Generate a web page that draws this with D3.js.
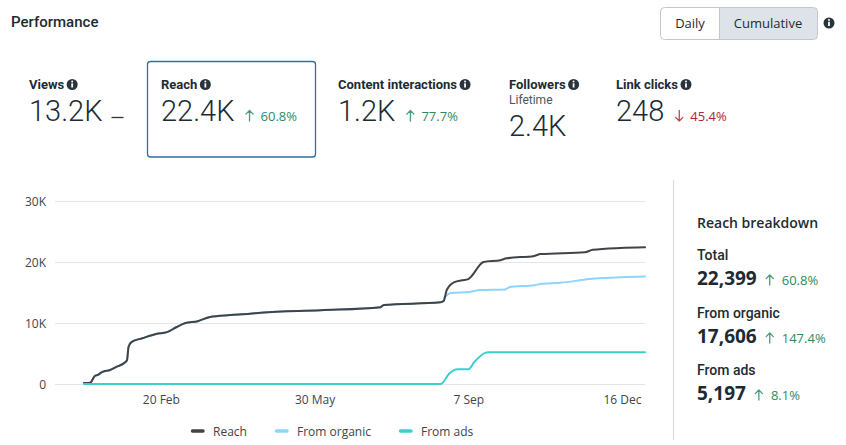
<!DOCTYPE html>
<html><head><meta charset="utf-8">
<script src="https://cdn.jsdelivr.net/npm/d3@7"></script>
<style>
body{margin:0;background:#fff;}
svg text{font-family:"Open Sans",sans-serif;}
</style></head><body>
<svg id="c" width="846" height="445"></svg>
<script>
// ---------------- data ----------------
const kpiLabels = ["Views", "Reach", "Content interactions", "Followers", "Link clicks"];
const kpiValues = ["13.2K", "22.4K", "1.2K", "2.4K", "248"];
const kpiDeltas = ["", "60.8%", "77.7%", "", "45.4%"];
const kpiDirections = ["none", "up", "up", "", "down"];
const kpiSubs = ["", "", "", "Lifetime", ""];

const reachDates = ["2024-01-01","2024-01-05","2024-01-08","2024-01-10","2024-01-13","2024-01-18","2024-01-22","2024-01-28","2024-01-29","2024-01-30","2024-02-01","2024-02-08","2024-02-17","2024-02-24","2024-03-01","2024-03-07","2024-03-15","2024-03-23","2024-04-05","2024-04-18","2024-04-25","2024-06-03","2024-07-12","2024-07-14","2024-08-20","2024-08-22","2024-08-24","2024-08-29","2024-09-03","2024-09-07","2024-09-17","2024-09-28","2024-10-02","2024-10-20","2024-10-24","2024-11-22","2024-11-27","2024-12-15","2024-12-31"];
const reachValues = [150,200,1300,1500,2000,2300,2800,3600,3900,6100,6900,7500,8200,8500,9300,10000,10300,11000,11300,11500,11700,12100,12600,12950,13400,13600,15400,16700,17000,17200,20000,20300,20600,21000,21300,21600,22000,22300,22399];

const organicDates = ["2024-01-01","2024-01-05","2024-01-08","2024-01-10","2024-01-13","2024-01-18","2024-01-22","2024-01-28","2024-01-29","2024-01-30","2024-02-01","2024-02-08","2024-02-17","2024-02-24","2024-03-01","2024-03-07","2024-03-15","2024-03-23","2024-04-05","2024-04-18","2024-04-25","2024-06-03","2024-07-12","2024-07-14","2024-08-20","2024-08-22","2024-08-23","2024-08-27","2024-09-08","2024-09-15","2024-10-01","2024-10-04","2024-10-20","2024-10-24","2024-11-06","2024-11-25","2024-12-15","2024-12-31"];
const organicValues = [150,200,1300,1500,2000,2300,2800,3600,3900,6100,6900,7500,8200,8500,9300,10000,10300,11000,11300,11500,11700,12100,12600,12950,13400,13700,14300,14900,15100,15400,15500,15900,16200,16400,16600,17200,17500,17606];

const adsDates = ["2024-01-01","2024-08-20","2024-08-26","2024-08-31","2024-09-07","2024-09-11","2024-09-18","2024-09-20","2024-12-31"];
const adsValues = [0,0,1800,2400,2400,3600,5100,5197,5197];

const yTicks = [0, 10000, 20000, 30000];
const xTicks = ["2024-02-20", "2024-05-30", "2024-09-07", "2024-12-16"];
const seriesNames = ["Reach", "From organic", "From ads"];
const seriesColors = ["#404448", "#8ed4fd", "#3ccfcf"];

const breakdownLabels = ["Total", "From organic", "From ads"];
const breakdownValues = ["22,399", "17,606", "5,197"];
const breakdownDeltas = ["60.8%", "147.4%", "8.1%"];

// ---------------- drawing ----------------
const parse = d3.timeParse("%Y-%m-%d");
const svg = d3.select("#c");
const dark = "#1c2b33";
const green = "#2f8a5f";
const red = "#b3262e";
const labelFont = "Roboto, sans-serif";

function infoIcon(cx, cy) {
  const g = svg.append("g");
  g.append("circle").attr("cx", cx).attr("cy", cy).attr("r", 5.5).attr("fill", "#2a343b");
  g.append("rect").attr("x", cx - 0.9).attr("y", cy - 1.2).attr("width", 1.8).attr("height", 4.2).attr("fill", "#fff");
  g.append("circle").attr("cx", cx).attr("cy", cy - 3).attr("r", 1).attr("fill", "#fff");
}

function arrow(cx, yBase, h, dir, color) {
  const top = yBase - h;
  const p = dir === "up"
    ? `M${cx},${yBase}V${top}M${cx - 3.6},${top + 3.6}L${cx},${top}L${cx + 3.6},${top + 3.6}`
    : `M${cx},${top}V${yBase}M${cx - 3.6},${yBase - 3.6}L${cx},${yBase}L${cx + 3.6},${yBase - 3.6}`;
  svg.append("path").attr("d", p).attr("fill", "none").attr("stroke", color)
    .attr("stroke-width", 1.3).attr("stroke-linecap", "round").attr("stroke-linejoin", "round")
    .attr("opacity", 0.85);
}

// header
svg.append("text").attr("x", 11).attr("y", 27).text("Performance")
  .style("font-family", labelFont).attr("font-size", 15).attr("font-weight", 500).attr("fill", dark);

svg.append("rect").attr("x", 720).attr("y", 8).attr("width", 97).attr("height", 31).attr("fill", "#dee3e9");
svg.append("rect").attr("x", 660.5).attr("y", 7.5).attr("width", 157).attr("height", 32).attr("rx", 4)
  .attr("fill", "none").attr("stroke", "#c3c7cc");
svg.append("line").attr("x1", 719.5).attr("x2", 719.5).attr("y1", 8).attr("y2", 39).attr("stroke", "#c3c7cc");
svg.append("text").attr("x", 690).attr("y", 28).attr("text-anchor", "middle").text("Daily")
  .attr("font-size", 13).attr("fill", dark);
svg.append("text").attr("x", 768).attr("y", 28).attr("text-anchor", "middle").text("Cumulative")
  .attr("font-size", 13).attr("fill", dark);
infoIcon(829, 23);

// KPI cards
const kpiX = [29, 161, 338, 509, 616];
svg.append("rect").attr("x", 147.5).attr("y", 61.5).attr("width", 168).attr("height", 95.5).attr("rx", 3)
  .attr("fill", "none").attr("stroke", "#2f6ea8").attr("stroke-width", 1.3);

kpiLabels.forEach((lab, i) => {
  const x = kpiX[i];
  const t = svg.append("text").attr("x", x).attr("y", 88.5).text(lab)
    .style("font-family", labelFont).attr("font-size", 13).attr("font-weight", 700).attr("fill", dark);
  const w = t.node().getComputedTextLength();
  infoIcon(x + w + 8, 84.5);
  let vy = 121;
  if (kpiSubs[i]) {
    svg.append("text").attr("x", x).attr("y", 103.5).text(kpiSubs[i])
      .style("font-family", labelFont).attr("font-size", 12).attr("fill", "#4b545b");
    vy = 136;
  }
  const v = svg.append("text").attr("x", x).attr("y", vy).text(kpiValues[i])
    .style("font-family", labelFont).attr("font-size", 29).attr("font-weight", 300).attr("fill", dark);
  const vw = v.node().getComputedTextLength();
  if (kpiDirections[i] === "none") {
    svg.append("line").attr("x1", x + vw + 9).attr("x2", x + vw + 21).attr("y1", 117.5).attr("y2", 117.5)
      .attr("stroke", "#2a343b").attr("stroke-width", 1.3);
  } else if (kpiDirections[i]) {
    const col = kpiDirections[i] === "up" ? green : red;
    const ax = x + vw + 15;
    arrow(ax, 121, 10.5, kpiDirections[i], col);
    svg.append("text").attr("x", ax + 11).attr("y", 120.5).text(kpiDeltas[i])
      .attr("font-size", 13).attr("fill", col);
  }
});

// chart
const x = d3.scaleTime().domain([parse("2024-01-01"), parse("2024-12-31")]).range([84, 645]);
const y = d3.scaleLinear().domain([0, 30000]).range([384, 201]);
const gridLeft = 55, gridRight = 645;

const yAxis = svg.append("g").attr("transform", `translate(${gridRight},0)`)
  .call(d3.axisLeft(y).tickValues(yTicks).tickSize(gridRight - gridLeft)
    .tickFormat(d => d === 0 ? "0" : d3.format("~s")(d).replace("k", "K")));
yAxis.select(".domain").remove();
yAxis.selectAll(".tick line").attr("stroke", "#e3e5e8").attr("stroke-width", 1.2);
yAxis.selectAll(".tick text").attr("x", -(gridRight - gridLeft) - 9).attr("dy", "0.34em")
  .attr("font-size", 12).attr("fill", "#3e454b").style("font-family", '"Open Sans", sans-serif');

const xAxis = svg.append("g").attr("transform", "translate(0,384)")
  .call(d3.axisBottom(x).tickValues(xTicks.map(parse)).tickSize(0).tickPadding(11)
    .tickFormat(d3.timeFormat("%-d %b")));
xAxis.select(".domain").remove();
xAxis.selectAll(".tick text").attr("font-size", 12).attr("fill", "#3e454b")
  .style("font-family", '"Open Sans", sans-serif');

const line = d3.line().x(d => x(d[0])).y(d => y(d[1])).curve(d3.curveMonotoneX);
const series = [
  {dates: organicDates, values: organicValues, color: seriesColors[1], w: 2},
  {dates: reachDates, values: reachValues, color: seriesColors[0], w: 2},
  {dates: adsDates, values: adsValues, color: seriesColors[2], w: 2},
];
series.forEach(s => {
  const pts = s.dates.map((d, i) => [parse(d), s.values[i]]);
  svg.append("path").attr("d", line(pts)).attr("fill", "none").attr("stroke", s.color)
    .attr("stroke-width", s.w).attr("stroke-linejoin", "round").attr("stroke-linecap", "round");
});

// legend
const legX = [191, 275, 399];
seriesNames.forEach((n, i) => {
  svg.append("line").attr("x1", legX[i] + 1.5).attr("x2", legX[i] + 12).attr("y1", 431).attr("y2", 431)
    .attr("stroke", seriesColors[i]).attr("stroke-width", 3.5).attr("stroke-linecap", "round");
  svg.append("text").attr("x", legX[i] + 22).attr("y", 435.5).text(n)
    .attr("font-size", 12).attr("fill", "#3e454b");
});

// right panel
svg.append("line").attr("x1", 673.5).attr("x2", 673.5).attr("y1", 180).attr("y2", 440)
  .attr("stroke", "#d9dcdf").attr("stroke-width", 1.2);
svg.append("text").attr("x", 697).attr("y", 228).text("Reach breakdown")
  .attr("font-size", 14).attr("font-weight", 600).attr("fill", dark);
const bLabY = [260, 318, 375], bValY = [285, 343, 400];
breakdownLabels.forEach((lab, i) => {
  svg.append("text").attr("x", 697).attr("y", bLabY[i]).text(lab)
    .style("font-family", labelFont).attr("font-size", 14).attr("font-weight", 500).attr("fill", dark);
  const v = svg.append("text").attr("x", 697).attr("y", bValY[i]).text(breakdownValues[i])
    .attr("font-size", 19).attr("font-weight", 700).attr("fill", dark);
  const vw = v.node().getComputedTextLength();
  const ax = 697 + vw + 13;
  arrow(ax, bValY[i], 10, "up", green);
  svg.append("text").attr("x", ax + 12).attr("y", bValY[i] - 0.5).text(breakdownDeltas[i])
    .attr("font-size", 13).attr("fill", green);
});
</script>
</body></html>
